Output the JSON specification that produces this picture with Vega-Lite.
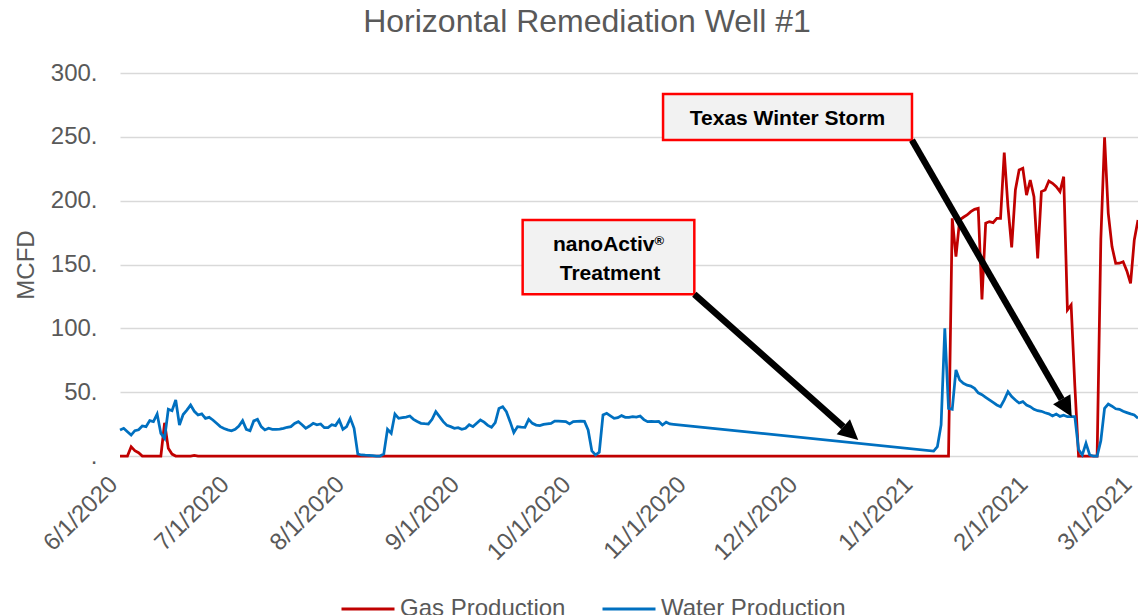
{
  "$schema": "https://vega.github.io/schema/vega-lite/v6.json",
  "width": 1018,
  "height": 383,
  "autosize": {"type": "none"},
  "padding": {"left": 120, "top": 73, "right": 0, "bottom": 159},
  "background": "white",
  "config": {"font": "Liberation Sans", "view": {"stroke": null}},
  "title": {"text": "Horizontal Remediation Well #1", "fontSize": 32, "fontWeight": "normal", "color": "#595959", "font": "Liberation Sans", "anchor": "middle", "frame": "group", "dx": -42, "offset": 22},
  "encoding": {
    "x": {
      "field": "date", "type": "temporal",
      "scale": {"type": "utc", "domain": [{"year": 2020, "month": 6, "date": 1, "utc": true}, {"year": 2021, "month": 3, "date": 2, "utc": true}]},
      "axis": {
        "values": [
          {"year": 2020, "month": 6, "date": 1, "utc": true},
          {"year": 2020, "month": 7, "date": 1, "utc": true},
          {"year": 2020, "month": 8, "date": 1, "utc": true},
          {"year": 2020, "month": 9, "date": 1, "utc": true},
          {"year": 2020, "month": 10, "date": 1, "utc": true},
          {"year": 2020, "month": 11, "date": 1, "utc": true},
          {"year": 2020, "month": 12, "date": 1, "utc": true},
          {"year": 2021, "month": 1, "date": 1, "utc": true},
          {"year": 2021, "month": 2, "date": 1, "utc": true},
          {"year": 2021, "month": 3, "date": 1, "utc": true}
        ],
        "labelExpr": "utcFormat(datum.value, '%-m/%-d/%Y')",
        "labelAngle": -45, "labelFontSize": 24, "labelColor": "#595959", "labelFont": "Liberation Sans",
        "ticks": false, "domain": false, "grid": false, "title": null,
        "labelPadding": 16, "labelOffset": -15, "labelOverlap": false
      }
    },
    "y": {
      "field": "value", "type": "quantitative",
      "scale": {"domain": [0, 300], "nice": false},
      "axis": {
        "values": [0, 50, 100, 150, 200, 250, 300],
        "labelExpr": "datum.value == 0 ? '.' : datum.value + '.'",
        "labelFontSize": 24, "labelColor": "#595959", "labelFont": "Liberation Sans",
        "ticks": false, "domain": false,
        "grid": true, "gridColor": "#D9D9D9", "gridWidth": 1.5,
        "title": "MCFD", "titleFontSize": 24, "titleFontWeight": "normal", "titleColor": "#595959", "titleFont": "Liberation Sans",
        "labelPadding": 23, "titlePadding": 12
      }
    }
  },
  "layer": [
    {
      "data": {"values": [
        {"date": "2020-06-01", "gas": 0, "water": 20.4},
        {"date": "2020-06-02", "gas": 0, "water": 21.7},
        {"date": "2020-06-03", "gas": 0, "water": 19.0},
        {"date": "2020-06-04", "gas": 7.3, "water": 16.4},
        {"date": "2020-06-05", "gas": 4.2, "water": 19.8},
        {"date": "2020-06-06", "gas": 2.6, "water": 20.6},
        {"date": "2020-06-07", "gas": 0, "water": 23.5},
        {"date": "2020-06-08", "gas": 0, "water": 23.0},
        {"date": "2020-06-09", "gas": 0, "water": 27.7},
        {"date": "2020-06-10", "gas": 0, "water": 26.9},
        {"date": "2020-06-11", "gas": 0, "water": 32.9},
        {"date": "2020-06-12", "gas": 0, "water": 17.7},
        {"date": "2020-06-13", "gas": 26, "water": 13.8},
        {"date": "2020-06-14", "gas": 6, "water": 36.6},
        {"date": "2020-06-15", "gas": 1.5, "water": 35.5},
        {"date": "2020-06-16", "gas": 0, "water": 43.9},
        {"date": "2020-06-17", "gas": 0, "water": 24.3},
        {"date": "2020-06-18", "gas": 0, "water": 32.5},
        {"date": "2020-06-19", "gas": 0, "water": 36.0},
        {"date": "2020-06-20", "gas": 0, "water": 39.9},
        {"date": "2020-06-21", "gas": 0.5, "water": 35.0},
        {"date": "2020-06-22", "gas": 0, "water": 32.1},
        {"date": "2020-06-23", "gas": 0, "water": 33.0},
        {"date": "2020-06-24", "gas": 0, "water": 29.5},
        {"date": "2020-06-25", "gas": 0, "water": 30.3},
        {"date": "2020-06-26", "gas": 0, "water": 28.2},
        {"date": "2020-06-27", "gas": 0, "water": 25.6},
        {"date": "2020-06-28", "gas": 0, "water": 23.0},
        {"date": "2020-06-29", "gas": 0, "water": 21.5},
        {"date": "2020-06-30", "gas": 0, "water": 20.5},
        {"date": "2020-07-01", "gas": 0, "water": 19.8},
        {"date": "2020-07-02", "gas": 0, "water": 21.0},
        {"date": "2020-07-03", "gas": 0, "water": 23.5},
        {"date": "2020-07-04", "gas": 0, "water": 27.7},
        {"date": "2020-07-05", "gas": 0, "water": 20.9},
        {"date": "2020-07-06", "gas": 0, "water": 19.8},
        {"date": "2020-07-07", "gas": 0, "water": 27.5},
        {"date": "2020-07-08", "gas": 0, "water": 28.7},
        {"date": "2020-07-09", "gas": 0, "water": 23.0},
        {"date": "2020-07-10", "gas": 0, "water": 20.4},
        {"date": "2020-07-11", "gas": 0, "water": 21.7},
        {"date": "2020-07-12", "gas": 0, "water": 20.9},
        {"date": "2020-07-13", "gas": 0, "water": 20.9},
        {"date": "2020-07-14", "gas": 0, "water": 21.0},
        {"date": "2020-07-15", "gas": 0, "water": 21.7},
        {"date": "2020-07-16", "gas": 0, "water": 22.5},
        {"date": "2020-07-17", "gas": 0, "water": 23.0},
        {"date": "2020-07-18", "gas": 0, "water": 25.5},
        {"date": "2020-07-19", "gas": 0, "water": 26.9},
        {"date": "2020-07-20", "gas": 0, "water": 24.5},
        {"date": "2020-07-21", "gas": 0, "water": 21.7},
        {"date": "2020-07-22", "gas": 0, "water": 23.5},
        {"date": "2020-07-23", "gas": 0, "water": 25.6},
        {"date": "2020-07-24", "gas": 0, "water": 24.5},
        {"date": "2020-07-25", "gas": 0, "water": 25.1},
        {"date": "2020-07-26", "gas": 0, "water": 22.2},
        {"date": "2020-07-27", "gas": 0, "water": 22.2},
        {"date": "2020-07-28", "gas": 0, "water": 24.5},
        {"date": "2020-07-29", "gas": 0, "water": 23.8},
        {"date": "2020-07-30", "gas": 0, "water": 28.2},
        {"date": "2020-07-31", "gas": 0, "water": 20.9},
        {"date": "2020-08-01", "gas": 0, "water": 23.0},
        {"date": "2020-08-02", "gas": 0, "water": 29.5},
        {"date": "2020-08-03", "gas": 0, "water": 21.7},
        {"date": "2020-08-04", "gas": 0, "water": 1.6},
        {"date": "2020-08-05", "gas": 0, "water": 0.8},
        {"date": "2020-08-06", "gas": 0, "water": 0.6},
        {"date": "2020-08-07", "gas": 0, "water": 0.5},
        {"date": "2020-08-08", "gas": 0, "water": 0.3},
        {"date": "2020-08-09", "gas": 0, "water": 0},
        {"date": "2020-08-10", "gas": 0, "water": 0},
        {"date": "2020-08-11", "gas": 0, "water": 1.6},
        {"date": "2020-08-12", "gas": 0, "water": 20.9},
        {"date": "2020-08-13", "gas": 0, "water": 17.8},
        {"date": "2020-08-14", "gas": 0, "water": 32.9},
        {"date": "2020-08-15", "gas": 0, "water": 29.5},
        {"date": "2020-08-16", "gas": 0, "water": 30.0},
        {"date": "2020-08-17", "gas": 0, "water": 30.5},
        {"date": "2020-08-18", "gas": 0, "water": 31.3},
        {"date": "2020-08-19", "gas": 0, "water": 28.7},
        {"date": "2020-08-20", "gas": 0, "water": 27.0},
        {"date": "2020-08-21", "gas": 0, "water": 25.6},
        {"date": "2020-08-22", "gas": 0, "water": 25.3},
        {"date": "2020-08-23", "gas": 0, "water": 25.1},
        {"date": "2020-08-24", "gas": 0, "water": 28.7},
        {"date": "2020-08-25", "gas": 0, "water": 34.7},
        {"date": "2020-08-26", "gas": 0, "water": 30.8},
        {"date": "2020-08-27", "gas": 0, "water": 26.9},
        {"date": "2020-08-28", "gas": 0, "water": 24.0},
        {"date": "2020-08-29", "gas": 0, "water": 23.0},
        {"date": "2020-08-30", "gas": 0, "water": 21.7},
        {"date": "2020-08-31", "gas": 0, "water": 22.2},
        {"date": "2020-09-01", "gas": 0, "water": 20.9},
        {"date": "2020-09-02", "gas": 0, "water": 21.7},
        {"date": "2020-09-03", "gas": 0, "water": 24.5},
        {"date": "2020-09-04", "gas": 0, "water": 23.0},
        {"date": "2020-09-05", "gas": 0, "water": 25.6},
        {"date": "2020-09-06", "gas": 0, "water": 28.2},
        {"date": "2020-09-07", "gas": 0, "water": 26.5},
        {"date": "2020-09-08", "gas": 0, "water": 24.0},
        {"date": "2020-09-09", "gas": 0, "water": 22.5},
        {"date": "2020-09-10", "gas": 0, "water": 26.1},
        {"date": "2020-09-11", "gas": 0, "water": 37.3},
        {"date": "2020-09-12", "gas": 0, "water": 38.6},
        {"date": "2020-09-13", "gas": 0, "water": 34.7},
        {"date": "2020-09-14", "gas": 0, "water": 26.9},
        {"date": "2020-09-15", "gas": 0, "water": 18.3},
        {"date": "2020-09-16", "gas": 0, "water": 23.0},
        {"date": "2020-09-17", "gas": 0, "water": 22.7},
        {"date": "2020-09-18", "gas": 0, "water": 22.5},
        {"date": "2020-09-19", "gas": 0, "water": 28.7},
        {"date": "2020-09-20", "gas": 0, "water": 25.6},
        {"date": "2020-09-21", "gas": 0, "water": 24.2},
        {"date": "2020-09-22", "gas": 0, "water": 23.8},
        {"date": "2020-09-23", "gas": 0, "water": 24.8},
        {"date": "2020-09-24", "gas": 0, "water": 25.2},
        {"date": "2020-09-25", "gas": 0, "water": 25.6},
        {"date": "2020-09-26", "gas": 0, "water": 27.4},
        {"date": "2020-09-27", "gas": 0, "water": 27.4},
        {"date": "2020-09-28", "gas": 0, "water": 27.2},
        {"date": "2020-09-29", "gas": 0, "water": 26.9},
        {"date": "2020-09-30", "gas": 0, "water": 25.1},
        {"date": "2020-10-01", "gas": 0, "water": 26.9},
        {"date": "2020-10-02", "gas": 0, "water": 27.2},
        {"date": "2020-10-03", "gas": 0, "water": 27.4},
        {"date": "2020-10-04", "gas": 0, "water": 27.2},
        {"date": "2020-10-05", "gas": 0, "water": 20.4},
        {"date": "2020-10-06", "gas": 0, "water": 4.0},
        {"date": "2020-10-07", "gas": 0, "water": 0.8},
        {"date": "2020-10-08", "gas": 0, "water": 3.0},
        {"date": "2020-10-09", "gas": 0, "water": 32.1},
        {"date": "2020-10-10", "gas": 0, "water": 33.4},
        {"date": "2020-10-11", "gas": 0, "water": 31.5},
        {"date": "2020-10-12", "gas": 0, "water": 29.5},
        {"date": "2020-10-13", "gas": 0, "water": 30.0},
        {"date": "2020-10-14", "gas": 0, "water": 31.6},
        {"date": "2020-10-15", "gas": 0, "water": 30.3},
        {"date": "2020-10-16", "gas": 0, "water": 30.3},
        {"date": "2020-10-17", "gas": 0, "water": 30.8},
        {"date": "2020-10-18", "gas": 0, "water": 30.5},
        {"date": "2020-10-19", "gas": 0, "water": 31.3},
        {"date": "2020-10-20", "gas": 0, "water": 28.5},
        {"date": "2020-10-21", "gas": 0, "water": 26.9},
        {"date": "2020-10-22", "gas": 0, "water": 27.1},
        {"date": "2020-10-23", "gas": 0, "water": 27.0},
        {"date": "2020-10-24", "gas": 0, "water": 27.1},
        {"date": "2020-10-25", "gas": 0, "water": 24.3},
        {"date": "2020-10-26", "gas": 0, "water": 26.5},
        {"date": "2020-10-27", "gas": 0, "water": 25.1},
        {"date": "2020-10-28", "gas": 0, "water": 24.8},
        {"date": "2020-10-29", "gas": 0},
        {"date": "2020-10-30", "gas": 0},
        {"date": "2020-10-31", "gas": 0},
        {"date": "2020-11-01", "gas": 0},
        {"date": "2020-11-02", "gas": 0},
        {"date": "2020-11-03", "gas": 0},
        {"date": "2020-11-04", "gas": 0},
        {"date": "2020-11-05", "gas": 0},
        {"date": "2020-11-06", "gas": 0},
        {"date": "2020-11-07", "gas": 0},
        {"date": "2020-11-08", "gas": 0},
        {"date": "2020-11-09", "gas": 0},
        {"date": "2020-11-10", "gas": 0},
        {"date": "2020-11-11", "gas": 0},
        {"date": "2020-11-12", "gas": 0},
        {"date": "2020-11-13", "gas": 0},
        {"date": "2020-11-14", "gas": 0},
        {"date": "2020-11-15", "gas": 0},
        {"date": "2020-11-16", "gas": 0},
        {"date": "2020-11-17", "gas": 0},
        {"date": "2020-11-18", "gas": 0},
        {"date": "2020-11-19", "gas": 0},
        {"date": "2020-11-20", "gas": 0},
        {"date": "2020-11-21", "gas": 0},
        {"date": "2020-11-22", "gas": 0},
        {"date": "2020-11-23", "gas": 0},
        {"date": "2020-11-24", "gas": 0},
        {"date": "2020-11-25", "gas": 0},
        {"date": "2020-11-26", "gas": 0},
        {"date": "2020-11-27", "gas": 0},
        {"date": "2020-11-28", "gas": 0},
        {"date": "2020-11-29", "gas": 0},
        {"date": "2020-11-30", "gas": 0},
        {"date": "2020-12-01", "gas": 0},
        {"date": "2020-12-02", "gas": 0},
        {"date": "2020-12-03", "gas": 0},
        {"date": "2020-12-04", "gas": 0},
        {"date": "2020-12-05", "gas": 0},
        {"date": "2020-12-06", "gas": 0},
        {"date": "2020-12-07", "gas": 0},
        {"date": "2020-12-08", "gas": 0},
        {"date": "2020-12-09", "gas": 0},
        {"date": "2020-12-10", "gas": 0},
        {"date": "2020-12-11", "gas": 0},
        {"date": "2020-12-12", "gas": 0},
        {"date": "2020-12-13", "gas": 0},
        {"date": "2020-12-14", "gas": 0},
        {"date": "2020-12-15", "gas": 0},
        {"date": "2020-12-16", "gas": 0},
        {"date": "2020-12-17", "gas": 0},
        {"date": "2020-12-18", "gas": 0},
        {"date": "2020-12-19", "gas": 0},
        {"date": "2020-12-20", "gas": 0},
        {"date": "2020-12-21", "gas": 0},
        {"date": "2020-12-22", "gas": 0},
        {"date": "2020-12-23", "gas": 0},
        {"date": "2020-12-24", "gas": 0},
        {"date": "2020-12-25", "gas": 0},
        {"date": "2020-12-26", "gas": 0},
        {"date": "2020-12-27", "gas": 0},
        {"date": "2020-12-28", "gas": 0},
        {"date": "2020-12-29", "gas": 0},
        {"date": "2020-12-30", "gas": 0},
        {"date": "2020-12-31", "gas": 0},
        {"date": "2021-01-01", "gas": 0},
        {"date": "2021-01-02", "gas": 0},
        {"date": "2021-01-03", "gas": 0},
        {"date": "2021-01-04", "gas": 0},
        {"date": "2021-01-05", "gas": 0},
        {"date": "2021-01-06", "gas": 0, "water": 3.9},
        {"date": "2021-01-07", "gas": 0, "water": 7.3},
        {"date": "2021-01-08", "gas": 0, "water": 24.3},
        {"date": "2021-01-09", "gas": 0, "water": 100},
        {"date": "2021-01-10", "gas": 0, "water": 37.3},
        {"date": "2021-01-11", "gas": 186.2, "water": 36.6},
        {"date": "2021-01-12", "gas": 156.1, "water": 67.4},
        {"date": "2021-01-13", "gas": 184.9, "water": 59.5},
        {"date": "2021-01-14", "gas": 187.0, "water": 56.9},
        {"date": "2021-01-15", "gas": 188.8, "water": 55.5},
        {"date": "2021-01-16", "gas": 191.4, "water": 54.8},
        {"date": "2021-01-17", "gas": 193.2, "water": 53.0},
        {"date": "2021-01-18", "gas": 194.0, "water": 49.5},
        {"date": "2021-01-19", "gas": 122.7, "water": 48.0},
        {"date": "2021-01-20", "gas": 182.3, "water": 46.0},
        {"date": "2021-01-21", "gas": 183.6, "water": 44.0},
        {"date": "2021-01-22", "gas": 182.8, "water": 42.0},
        {"date": "2021-01-23", "gas": 186.2, "water": 40.0},
        {"date": "2021-01-24", "gas": 186.2, "water": 38.6},
        {"date": "2021-01-25", "gas": 237.6, "water": 44.0},
        {"date": "2021-01-26", "gas": 195.3, "water": 50.4},
        {"date": "2021-01-27", "gas": 163.4, "water": 46.5},
        {"date": "2021-01-28", "gas": 208.4, "water": 43.9},
        {"date": "2021-01-29", "gas": 224.0, "water": 41.5},
        {"date": "2021-01-30", "gas": 225.3, "water": 42.6},
        {"date": "2021-01-31", "gas": 204.4, "water": 39.9},
        {"date": "2021-02-01", "gas": 216.2, "water": 38.6},
        {"date": "2021-02-02", "gas": 203.1, "water": 36.6},
        {"date": "2021-02-03", "gas": 154.8, "water": 35.5},
        {"date": "2021-02-04", "gas": 207.1, "water": 35.0},
        {"date": "2021-02-05", "gas": 208.4, "water": 33.9},
        {"date": "2021-02-06", "gas": 215.4, "water": 33.0},
        {"date": "2021-02-07", "gas": 213.6, "water": 31.3},
        {"date": "2021-02-08", "gas": 211.0, "water": 32.9},
        {"date": "2021-02-09", "gas": 207.1, "water": 31.0},
        {"date": "2021-02-10", "gas": 218.8, "water": 31.9},
        {"date": "2021-02-11", "gas": 114.4, "water": 30.8},
        {"date": "2021-02-12", "gas": 118.3, "water": 30.8},
        {"date": "2021-02-13", "gas": 55, "water": 30.8},
        {"date": "2021-02-14", "gas": 0, "water": 5.0},
        {"date": "2021-02-15", "gas": 0, "water": 0.8},
        {"date": "2021-02-16", "gas": 0, "water": 9.9},
        {"date": "2021-02-17", "gas": 0, "water": 0.8},
        {"date": "2021-02-18", "gas": 0, "water": 0},
        {"date": "2021-02-19", "gas": 0, "water": 0},
        {"date": "2021-02-20", "gas": 170, "water": 12.0},
        {"date": "2021-02-21", "gas": 249.6, "water": 37.3},
        {"date": "2021-02-22", "gas": 190.1, "water": 40.7},
        {"date": "2021-02-23", "gas": 164.0, "water": 39.0},
        {"date": "2021-02-24", "gas": 150.9, "water": 37.0},
        {"date": "2021-02-25", "gas": 151.0, "water": 36.6},
        {"date": "2021-02-26", "gas": 152.2, "water": 35.0},
        {"date": "2021-02-27", "gas": 145.0, "water": 34.0},
        {"date": "2021-02-28", "gas": 135.3, "water": 33.0},
        {"date": "2021-03-01", "gas": 169.2, "water": 32.1},
        {"date": "2021-03-02", "gas": 184.9, "water": 29.5}
      ]},
      "transform": [
        {"fold": ["gas", "water"], "as": ["series", "value"]},
        {"filter": "isValid(datum.value)"}
      ],
      "mark": {"type": "line", "strokeWidth": 2.75},
      "encoding": {
        "color": {
          "field": "series", "type": "nominal",
          "scale": {"domain": ["gas", "water"], "range": ["#C00000", "#0070C0"]},
          "legend": {
            "title": null, "orient": "none", "legendX": 220, "legendY": 508, "direction": "horizontal",
            "symbolType": "stroke", "symbolSize": 2809, "symbolStrokeWidth": 3,
            "labelFontSize": 24, "labelColor": "#595959", "labelFont": "Liberation Sans",
            "labelOffset": 4, "columnPadding": 30, "padding": 0, "labelLimit": 0,
            "labelExpr": "datum.value == 'gas' ? 'Gas Production' : 'Water Production'"
          }
        }
      }
    },
    {
      "data": {"values": [
        {"date": "2020-10-25T04:00:00Z", "date2": "2020-12-31T04:00:00Z", "value": 283.6, "value2": 247.5},
        {"date": "2020-09-17T09:00:00Z", "date2": "2020-11-02T14:00:00Z", "value": 184.9, "value2": 126.7}
      ]},
      "mark": {"type": "rect", "fill": "#F2F2F2", "stroke": "#FF0000", "strokeWidth": 2.5},
      "encoding": {
        "x2": {"field": "date2"},
        "y2": {"field": "value2"}
      }
    },
    {
      "data": {"values": [
        {"date": "2020-11-02T14:00:00Z", "value": 126.7, "date2": "2020-12-12T17:00:00Z", "value2": 22.95},
        {"date": "2020-12-31T04:00:00Z", "value": 247.5, "date2": "2021-02-09T11:00:00Z", "value2": 44.3}
      ]},
      "mark": {"type": "rule", "color": "#000000", "strokeWidth": 6.5},
      "encoding": {
        "x2": {"field": "date2"},
        "y2": {"field": "value2"}
      }
    },
    {
      "data": {"values": [{"date": "2020-12-16T17:00:00Z", "value": 12.53}]},
      "mark": {"type": "point", "shape": "M0,0L-2,-1L-2,1Z", "filled": true, "color": "#000000", "opacity": 1, "size": 400, "angle": 41.7},
      "encoding": {}
    },
    {
      "data": {"values": [{"date": "2021-02-12T04:00:00Z", "value": 30.8}]},
      "mark": {"type": "point", "shape": "M0,0L-2,-1L-2,1Z", "filled": true, "color": "#000000", "opacity": 1, "size": 400, "angle": 60},
      "encoding": {}
    },
    {
      "data": {"values": [
        {"date": "2020-11-27T16:00:00Z", "value": 259.3, "label": "Texas Winter Storm"},
        {"date": "2020-10-10T21:00:00Z", "value": 137.9, "label": "Treatment"}
      ]},
      "mark": {"type": "text", "font": "Liberation Sans", "fontWeight": "bold", "fontSize": 21, "color": "#000000", "align": "center", "baseline": "alphabetic"},
      "encoding": {"text": {"field": "label"}}
    },
    {
      "data": {"values": [{"date": "2020-10-22T21:00:00Z", "value": 160.8, "label": "nanoActiv"}]},
      "mark": {"type": "text", "font": "Liberation Sans", "fontWeight": "bold", "fontSize": 21, "color": "#000000", "align": "right", "baseline": "alphabetic"},
      "encoding": {"text": {"field": "label"}}
    },
    {
      "data": {"values": [{"date": "2020-10-22T21:00:00Z", "value": 165.3, "label": "®"}]},
      "mark": {"type": "text", "font": "Liberation Sans", "fontWeight": "bold", "fontSize": 13, "color": "#000000", "align": "left", "baseline": "alphabetic"},
      "encoding": {"text": {"field": "label"}}
    }
  ]
}
